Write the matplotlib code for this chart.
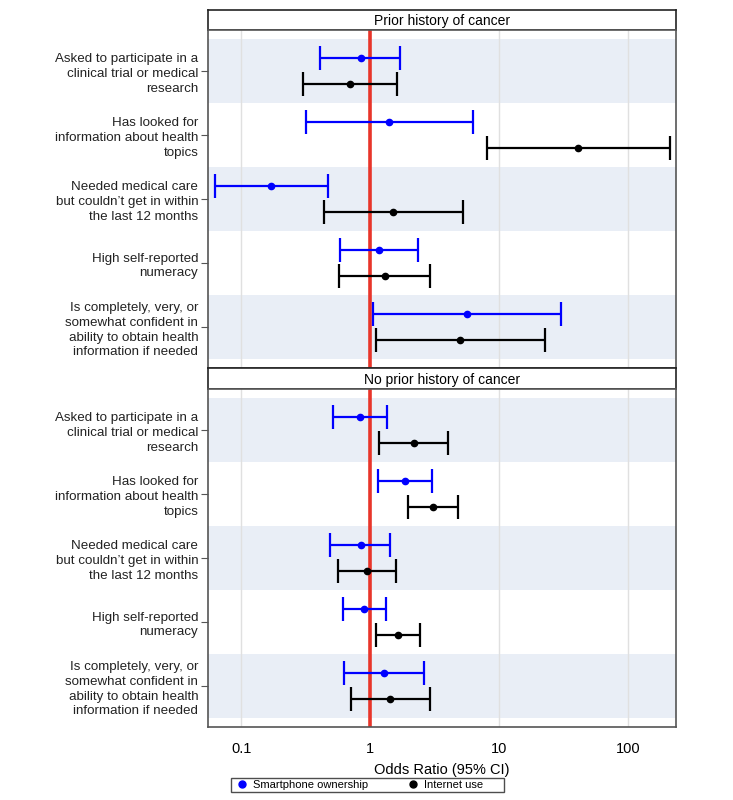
import numpy as np
import matplotlib
matplotlib.use("Agg")
import matplotlib.pyplot as plt
from matplotlib.lines import Line2D

plt.rcParams["font.family"] = ["Liberation Sans", "DejaVu Sans"]

# ── data (odds ratios, 95% CI) ─────────────────────────────────
items = ["Asked to participate in a\nclinical trial or medical\nresearch",
         "Has looked for\ninformation about health\ntopics",
         "Needed medical care\nbut couldn\u2019t get in within\nthe last 12 months",
         "High self-reported\nnumeracy",
         "Is completely, very, or\nsomewhat confident in\nability to obtain health\ninformation if needed"]
panels = ["Prior history of cancer", "No prior history of cancer"]

# prior history of cancer
phone_or_prior = [0.84, 1.40, 0.171, 1.16, 5.59]
phone_lo_prior = [0.41, 0.32, 0.062, 0.58, 1.04]
phone_hi_prior = [1.71, 6.25, 0.47, 2.36, 29.9]
net_or_prior   = [0.70, 40.7, 1.50, 1.29, 4.99]
net_lo_prior   = [0.30, 7.98, 0.435, 0.57, 1.11]
net_hi_prior   = [1.61, 209, 5.23, 2.90, 22.5]

# no prior history of cancer
phone_or_none = [0.83, 1.87, 0.84, 0.90, 1.28]
phone_lo_none = [0.51, 1.15, 0.49, 0.61, 0.63]
phone_hi_none = [1.34, 3.01, 1.43, 1.32, 2.62]
net_or_none   = [2.17, 3.08, 0.95, 1.65, 1.42]
net_lo_none   = [1.17, 1.96, 0.565, 1.11, 0.71]
net_hi_none   = [4.00, 4.81, 1.59, 2.41, 2.89]

series = [
    [(phone_or_prior, phone_lo_prior, phone_hi_prior), (net_or_prior, net_lo_prior, net_hi_prior)],
    [(phone_or_none, phone_lo_none, phone_hi_none), (net_or_none, net_lo_none, net_hi_none)],
]
colors = ["#0000ff", "#000000"]
labels = ["Smartphone ownership", "Internet use"]
xticks = [0.1, 1, 10, 100]
xticklabels = ["0.1", "1", "10", "100"]

W, H = 733, 800
fig = plt.figure(figsize=(W / 100, H / 100), dpi=100)

def px_axes(x0, y0, x1, y1):
    return fig.add_axes([x0 / W, 1 - y1 / H, (x1 - x0) / W, (y1 - y0) / H])

frame_col = "#555555"
n = len(items)
ypos = np.arange(n)[::-1]          # first item at top
off = 0.21

for p, (y0, y1, s0, s1) in enumerate([(30, 368, 10, 30), (389, 727, 368, 389)]):
    # strip title
    st = px_axes(208, s0, 676, s1)
    st.set_xticks([]); st.set_yticks([])
    for sp in st.spines.values():
        sp.set_color("#222222"); sp.set_linewidth(1.2)
    st.text(0.5, 0.45, panels[p], ha="center", va="center", fontsize=10, transform=st.transAxes)

    ax = px_axes(208, y0, 676, y1)
    ax.set_xscale("log")
    ax.set_xlim(0.0552, 234)
    ax.set_ylim(-0.64, n - 1 + 0.64)
    for i in range(n):
        if i % 2 == 0:
            ax.axhspan(ypos[i] - 0.5, ypos[i] + 0.5, color="#e9eef6", lw=0, zorder=0)
    for xt in xticks:
        ax.axvline(xt, color="#e0e0e0", lw=1, zorder=1)
    ax.axvline(1, color="#e8352a", lw=2.6, zorder=2)

    for k, (orv, lo, hi) in enumerate(series[p]):
        orv, lo, hi = map(np.array, (orv, lo, hi))
        yy = ypos + (off if k == 0 else -off)
        ax.errorbar(orv, yy, xerr=[orv - lo, hi - orv], fmt="o", color=colors[k],
                    ms=4.5, elinewidth=1.6, capsize=8.5, capthick=1.6, zorder=3)

    ax.set_yticks(ypos)
    ax.set_yticklabels(items, fontsize=9.6, color="#222222", multialignment="right", linespacing=1.33)
    ax.tick_params(axis="y", length=5, width=0.8, color="#555555", pad=2)
    ax.set_xticks(xticks)
    ax.xaxis.set_minor_locator(matplotlib.ticker.NullLocator())
    if p == 1:
        ax.set_xticklabels(xticklabels, fontsize=10.5)
        ax.tick_params(axis="x", length=0, pad=11)
        ax.set_xlabel("Odds Ratio (95% CI)", fontsize=10.5, labelpad=5)
    else:
        ax.set_xticklabels([])
        ax.tick_params(axis="x", length=0)
    for sp in ax.spines.values():
        sp.set_color(frame_col); sp.set_linewidth(1.2)

handles = [Line2D([], [], ls="none", marker="o", ms=5, color=c) for c in colors]
leg = fig.legend(handles, [labels[0], labels[1] + "      "], ncol=2, loc="center left",
                 bbox_to_anchor=(231 / W, 1 - 785 / H),
                 fontsize=8, frameon=True, fancybox=False, edgecolor="#222222",
                 handletextpad=0.2, columnspacing=3.2, borderpad=0.2, handlelength=1.6,
                 borderaxespad=0)
leg.get_frame().set_linewidth(1.0)

fig.savefig("out.png", dpi=100)
